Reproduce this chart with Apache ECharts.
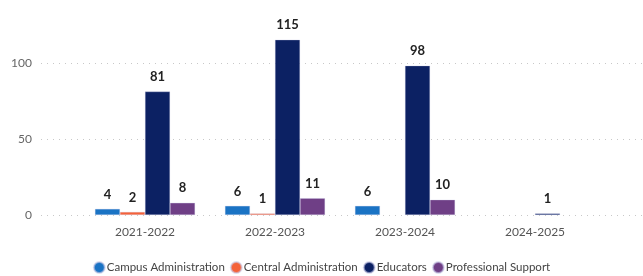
<!DOCTYPE html>
<html>
<head>
<meta charset="utf-8">
<script src="https://cdn.jsdelivr.net/npm/echarts@6/dist/echarts.min.js"></script>
<style>
  html, body { margin: 0; padding: 0; background: #fff; }
  #chart { width: 643px; height: 276px; }
</style>
</head>
<body>
<div id="chart"></div>
<script>
const years = ['2021-2022', '2022-2023', '2023-2024', '2024-2025'];
const campusAdmin = [4, 6, 6, null];
const centralAdmin = [2, 1, null, null];
const educators = [81, 115, 98, 1];
const professionalSupport = [8, 11, 10, null];
const yTicks = [0, 50, 100];

const font = 'Lato';
const colors = ['#1a73c4', '#f4623a', '#0c2163', '#6f3f86'];

const chart = echarts.init(document.getElementById('chart'));

function barSeries(name, data, color) {
  return {
    name: name,
    type: 'bar',
    xAxisIndex: 1,
    yAxisIndex: 1,
    data: data,
    barGap: '0%',
    barCategoryGap: '23%',
    itemStyle: { color: color, borderColor: 'rgba(200,200,230,0.6)', borderWidth: 0.5 },
    label: {
      show: true,
      position: 'top',
      distance: 8,
      color: '#222',
      fontFamily: font,
      fontWeight: 'bold',
      fontSize: 13
    }
  };
}

chart.setOption({
  animation: false,
  color: colors,
  textStyle: { fontFamily: font },
  grid: [
    // grid for the dotted lines and y labels
    { left: 41, right: 0, top: 63, bottom: 61 },
    // grid for the bars
    { left: 80, right: 43, top: 24.5, bottom: 61 }
  ],
  xAxis: [
    { type: 'value', gridIndex: 0, show: false },
    {
      type: 'category',
      gridIndex: 1,
      data: years,
      axisLine: { show: false },
      axisTick: { show: false },
      axisLabel: { color: '#555', fontSize: 12, fontFamily: font, margin: 11 }
    }
  ],
  yAxis: [
    {
      type: 'value',
      gridIndex: 0,
      min: yTicks[0],
      max: yTicks[yTicks.length - 1],
      interval: 50,
      axisLine: { show: false },
      axisTick: { show: false },
      axisLabel: { color: '#666', fontSize: 12, fontFamily: font, margin: 9 },
      splitLine: { lineStyle: { color: '#c8c8c8', type: [1, 5] } }
    },
    {
      type: 'value',
      gridIndex: 1,
      min: 0,
      max: 125,
      show: false,
      splitLine: { show: false }
    }
  ],
  legend: {
    left: 'center',
    top: 256,
    icon: 'circle',
    itemWidth: 11,
    itemHeight: 11,
    itemGap: 5,
    textStyle: { color: '#444', fontSize: 11.5, fontFamily: font, padding: [0, 0, 0, -3] },
    data: ['Campus Administration', 'Central Administration', 'Educators', 'Professional Support']
  },
  series: [
    barSeries('Campus Administration', campusAdmin, colors[0]),
    barSeries('Central Administration', centralAdmin, colors[1]),
    barSeries('Educators', educators, colors[2]),
    barSeries('Professional Support', professionalSupport, colors[3])
  ]
});
</script>
</body>
</html>
